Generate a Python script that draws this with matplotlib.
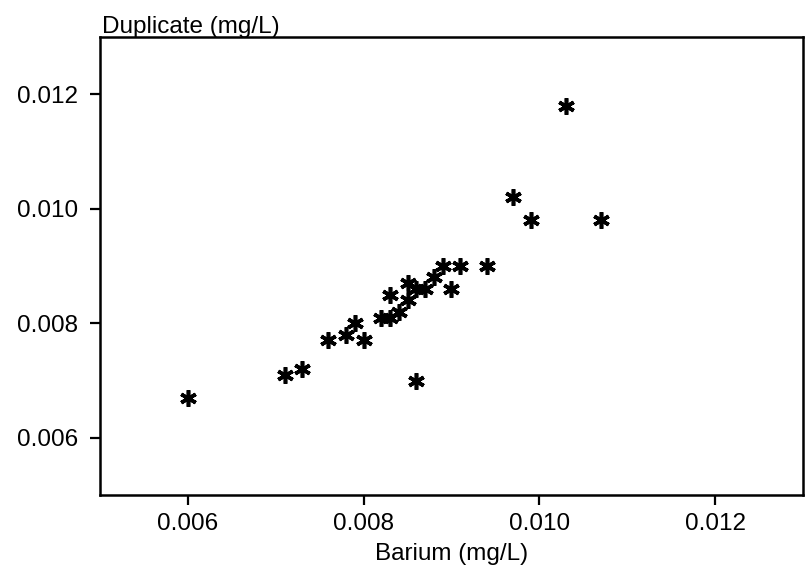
import numpy as np
import matplotlib.pyplot as plt

plt.rcParams['font.family'] = ['Liberation Sans', 'DejaVu Sans']

# barium original vs duplicate (mg/L)
barium = [0.0060, 0.0071, 0.0073, 0.0076, 0.0078, 0.0079, 0.0080, 0.0082,
          0.0083, 0.0083, 0.0084, 0.0085, 0.0085, 0.0086, 0.0087, 0.0088,
          0.0089, 0.0090, 0.0091, 0.0094, 0.0086, 0.0097, 0.0099, 0.0103,
          0.0107]
duplicate = [0.0067, 0.0071, 0.0072, 0.0077, 0.0078, 0.0080, 0.0077, 0.0081,
             0.0085, 0.0081, 0.0082, 0.0084, 0.0087, 0.0086, 0.0086, 0.0088,
             0.0090, 0.0086, 0.0090, 0.0090, 0.0070, 0.0102, 0.0098, 0.0118,
             0.0098]

ticks = [0.006, 0.008, 0.010, 0.012]
tick_labels = ['0.006', '0.008', '0.010', '0.012']

fig = plt.figure(figsize=(8.08, 5.76), dpi=100)
ax = fig.add_axes([100/808, 81/576, 703/808, 458/576])

ax.plot(barium, duplicate, linestyle='none', marker=(6, 2, 0),
        markersize=12, markeredgewidth=2.6, color='black')

ax.set_xlim(0.005, 0.013)
ax.set_ylim(0.005, 0.013)
ax.set_xticks(ticks)
ax.set_xticklabels(tick_labels)
ax.set_yticks(ticks)
ax.set_yticklabels(tick_labels)
ax.tick_params(direction='out', length=7, width=1.6, labelsize=17.5)
ax.tick_params(axis='x', pad=6)
ax.tick_params(axis='y', pad=9)

for s in ax.spines.values():
    s.set_linewidth(1.8)

ax.set_xlabel('Barium (mg/L)', fontsize=17.5, labelpad=6)
fig.text(102/808, 1 - 33/576, 'Duplicate (mg/L)', fontsize=17.5,
         ha='left', va='baseline')

fig.savefig('out.png', dpi=100)
